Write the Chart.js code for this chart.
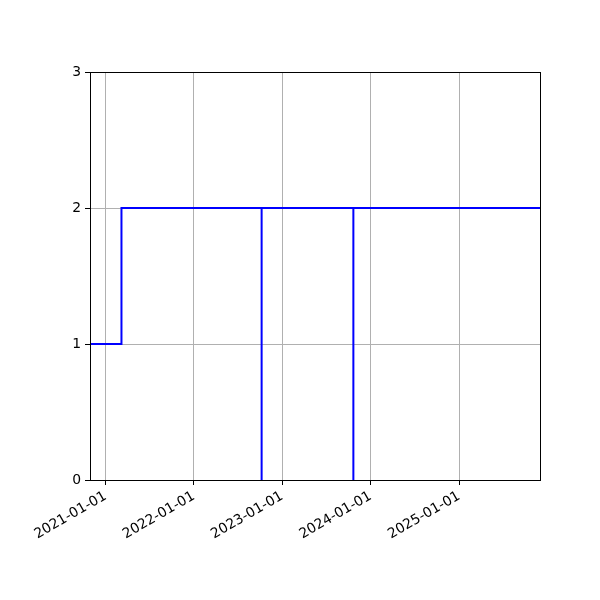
<!DOCTYPE html>
<html>
<head>
<meta charset="utf-8">
<script src="https://cdn.jsdelivr.net/npm/chart.js@4"></script>
<style>
html,body{margin:0;padding:0;background:#fff;}
#wrap{width:600px;height:600px;}
</style>
</head>
<body>
<div id="wrap"><canvas id="c" width="600" height="600"></canvas></div>
<script>
// Data (step series, steps-post style)
const dates = ['2020-10-29', '2021-03-08', '2022-10-08', '2022-10-08', '2023-10-22', '2023-10-22', '2025-12-01'];
const values = [1, 2, 0, 2, 0, 2, 2];
const xTickDates = ['2021-01-01', '2022-01-01', '2023-01-01', '2024-01-01', '2025-01-01'];
const yTicks = [0, 1, 2, 3];
const xRange = ['2020-10-29', '2025-12-01'];

const toMs = s => Date.parse(s + 'T00:00:00Z');
const fmt = v => new Date(v).toISOString().slice(0, 10);

const points = dates.map((d, i) => ({x: toMs(d), y: values[i]}));
const font = {family: 'DejaVu Sans', size: 13.9};

const frame = {
  id: 'frame',
  afterDraw(chart) {
    const a = chart.chartArea, ctx = chart.ctx;
    ctx.save();
    ctx.strokeStyle = '#000';
    ctx.lineWidth = 1;
    ctx.strokeRect(Math.round(a.left) + 0.5, Math.round(a.top) + 0.5, Math.round(a.right - a.left), Math.round(a.bottom - a.top));
    ctx.restore();
  }
};

new Chart(document.getElementById('c'), {
  type: 'line',
  data: {
    datasets: [{
      data: points,
      stepped: 'before',
      borderColor: '#0000ff',
      borderWidth: 2,
      pointRadius: 0,
      fill: false,
      tension: 0
    }]
  },
  options: {
    responsive: false,
    animation: false,
    events: [],
    layout: {padding: {top: 72, right: 60, left: 0, bottom: 0}},
    plugins: {legend: {display: false}, tooltip: {enabled: false}},
    scales: {
      x: {
        type: 'linear',
        min: toMs(xRange[0]),
        max: toMs(xRange[1]),
        afterBuildTicks: s => { s.ticks = xTickDates.map(d => ({value: toMs(d)})); },
        afterFit: s => { s.height = 120; },
        ticks: {
          callback: v => fmt(v),
          maxRotation: 30, minRotation: 30,
          color: '#000', font: font, padding: 3, autoSkip: false
        },
        grid: {color: '#b0b0b0', lineWidth: 1, tickColor: '#000', tickLength: 5, drawTicks: true},
        border: {color: '#000', width: 1}
      },
      y: {
        type: 'linear',
        min: yTicks[0],
        max: yTicks[yTicks.length - 1],
        afterBuildTicks: s => { s.ticks = yTicks.map(v => ({value: v})); },
        afterFit: s => { s.width = 90; },
        ticks: {color: '#000', font: font, padding: 4},
        grid: {color: '#b0b0b0', lineWidth: 1, tickColor: '#000', tickLength: 5, drawTicks: true},
        border: {color: '#000', width: 1}
      }
    }
  },
  plugins: [frame]
});
</script>
</body>
</html>
